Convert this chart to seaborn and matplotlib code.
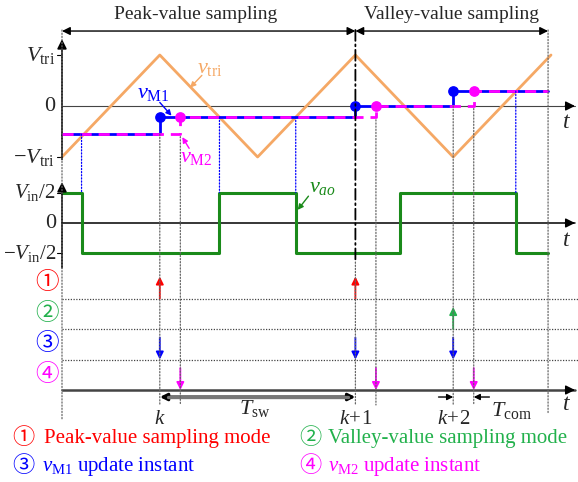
import numpy as np
import pandas as pd
import matplotlib
matplotlib.use("Agg")
import matplotlib.pyplot as plt
import seaborn as sns
from matplotlib.patches import ConnectionPatch

# ---------------- data ----------------
tri_t = [0, 1, 2, 3, 4, 5]
tri_v = [-1, 1, -1, 1, -1, 1]
sample_t = [1, 3, 4]                 # k, k+1, k+2
sample_labels = ["$k$", "$k\\!+\\!1$", "$k\\!+\\!2$"]
t_com = 0.21
vm_levels = [-0.55, -0.22, 0.0, 0.29]
t_end = 4.97
vao_t = [0, 0.20, 1.61, 2.39, 3.46, 4.64, 4.97]
vao_v = [1, -1, 1, -1, 1, -1, -1]
cross_t = [0.20, 1.61, 2.39, 4.64]
cross_level = [-0.55, -0.22, -0.22, 0.29]
peak_events = [1, 3]
valley_events = [4]
row_labels = ["\u2460", "\u2461", "\u2462", "\u2463"]
legend_texts = ["Peak-value sampling mode", "Valley-value sampling mode",
                "$v_{\\rm M1}\\ \\mathrm{update\\ instant}$",
                "$v_{\\rm M2}\\ \\mathrm{update\\ instant}$"]

ORANGE = "#F5A865"
BLUE = "#0000FF"
MAG = "#FF00FF"
GREEN = "#1A8A1A"
LGREEN = "#22B14C"
RED = "#FF0000"

sns.set_theme(style="white")
plt.rcParams["font.family"] = ["Liberation Serif", "Noto Sans CJK SC", "DejaVu Sans"]
plt.rcParams["mathtext.fontset"] = "custom"
plt.rcParams["mathtext.rm"] = "Liberation Serif"
plt.rcParams["mathtext.it"] = "Liberation Serif:italic"

W, H = 578, 482
fig = plt.figure(figsize=(W / 100, H / 100), dpi=100)
px0, pxs = 62, 97.8
xlim = (-px0 / pxs, (W - px0) / pxs)

def add_ax(top, bot, ylim):
    ax = fig.add_axes([0, 1 - bot / H, 1, (bot - top) / H])
    ax.set_xlim(*xlim)
    ax.set_ylim(*ylim)
    ax.axis("off")
    return ax

ax1 = add_ax(0, 172, (-(172 - 106) / 51, 106 / 51))
ax2 = add_ax(172, 268, ((223 - 268) / 30.5, (223 - 172) / 30.5))
ax3 = add_ax(268, 482, (-(482 - 390) / 30.5, (390 - 268) / 30.5))

x_arrow_end = (575 - px0) / pxs

def arrow(ax, xy, xytext, color="black", lw=1.0, style="-|>", ms=12, z=5):
    ax.annotate("", xy=xy, xytext=xytext,
                arrowprops=dict(arrowstyle=style, color=color, lw=lw,
                                shrinkA=0, shrinkB=0, mutation_scale=ms), zorder=z)

def vconn(axA, yA, axB, yB, t, **kw):
    cp = ConnectionPatch((t, yA), (t, yB), "data", "data", axesA=axA, axesB=axB, **kw)
    fig.add_artist(cp)

# ---------------- vertical guide lines ----------------
dot = dict(color="#666666", lw=0.9, linestyle=(0, (1, 1.5)))
vconn(ax1, 1.49, ax3, -0.98, 0, **dot)
vconn(ax1, 1.49, ax3, -0.75, t_end, **dot)
for i, ts in enumerate(sample_t):
    old = vm_levels[i]
    if ts == 3:
        vconn(ax1, 1.49, ax2, -1.28, ts, color="black", lw=1.3, linestyle=(0, (6, 2, 1, 2)))
        vconn(ax2, -1.28, ax3, -0.49, ts, **dot)
    else:
        vconn(ax1, old, ax3, -0.49, ts, **dot)
    vconn(ax1, old - 0.05, ax3, -0.49, ts + t_com, **dot)
for tc, lv in zip(cross_t, cross_level):
    vconn(ax1, lv, ax2, 1, tc, color=BLUE, lw=0.9, linestyle=(0, (1, 1.5)))

# ---------------- top panel ----------------
ax1.plot([0, x_arrow_end], [0, 0], color="#444444", lw=0.8, zorder=2)
arrow(ax1, (x_arrow_end, 0), (x_arrow_end - 0.1, 0), ms=14)
arrow(ax1, (0, 1.31), (0, -1.05), lw=1.2, ms=14)
for y in (1, -1):
    ax1.plot([-0.05, 0], [y, y], color="black", lw=0.8)
tri_df = pd.DataFrame({"t": tri_t, "v": tri_v})
sns.lineplot(data=tri_df, x="t", y="v", ax=ax1, color=ORANGE, lw=2, zorder=3)

m1_t = [0] + sample_t + [t_end]
m1_v = vm_levels + [vm_levels[-1]]
m2_t = [0] + [s + t_com for s in sample_t] + [t_end]
ax1.plot(m1_t, m1_v, drawstyle="steps-post", color=BLUE, lw=2, zorder=4)
ax1.plot(m2_t, m1_v, drawstyle="steps-post", color=MAG, lw=2, linestyle=(0, (4, 2.5)), zorder=5)
ax1.scatter(sample_t, vm_levels[1:], s=45, color=BLUE, zorder=6)
ax1.scatter([s + t_com for s in sample_t], vm_levels[1:], s=45, color=MAG, zorder=6)

ax1.text(-0.07, 1, "$V_{\\rm tri}$", ha="right", va="center", fontsize=16)
ax1.text(-0.07, 0, "0", ha="right", va="center", fontsize=16)
ax1.text(-0.07, -1, "$-V_{\\rm tri}$", ha="right", va="center", fontsize=16)
ax1.text(5.16, -0.33, "$t$", ha="center", va="center", fontsize=17)

ax1.text(1.51, 0.74, "$v_{\\rm tri}$", color=ORANGE, ha="center", va="center", fontsize=16)
arrow(ax1, (1.31, 0.36), (1.43, 0.60), color=ORANGE, lw=1, ms=8)
ax1.text(0.93, 0.25, "$v_{\\rm M1}$", color=BLUE, ha="center", va="center", fontsize=16)
arrow(ax1, (1.12, -0.19), (1.0, 0.07), color=BLUE, lw=1, ms=8)
ax1.text(1.37, -1.0, "$v_{\\rm M2}$", color=MAG, ha="center", va="center", fontsize=16)
arrow(ax1, (1.23, -0.61), (1.30, -0.83), color=MAG, lw=1, ms=8)

ax1.annotate("", xy=(0, 1.47), xytext=(3, 1.47),
             arrowprops=dict(arrowstyle="<|-|>", color="black", lw=1, shrinkA=0, shrinkB=0, mutation_scale=12))
ax1.annotate("", xy=(3, 1.47), xytext=(t_end, 1.47),
             arrowprops=dict(arrowstyle="<|-|>", color="black", lw=1, shrinkA=0, shrinkB=0, mutation_scale=12))
ax1.text(1.37, 1.80, "Peak-value sampling", ha="center", va="center", fontsize=14)
ax1.text(3.98, 1.80, "Valley-value sampling", ha="center", va="center", fontsize=14)

# ---------------- middle panel ----------------
ax2.plot([0, x_arrow_end], [0, 0], color="black", lw=1.1, zorder=2)
arrow(ax2, (x_arrow_end, 0), (x_arrow_end - 0.1, 0), ms=14)
arrow(ax2, (0, 1.34), (0, -1.47), lw=1.2, ms=14)
for y in (1, -1):
    ax2.plot([-0.05, 0], [y, y], color="black", lw=0.8)
ax2.plot(vao_t, vao_v, drawstyle="steps-post", color=GREEN, lw=2.2, zorder=4)
ax2.text(-0.06, 1, "$V_{\\rm in}/2$", ha="right", va="center", fontsize=15)
ax2.text(-0.06, 0, "0", ha="right", va="center", fontsize=16)
ax2.text(-0.06, -1, "$-V_{\\rm in}/2$", ha="right", va="center", fontsize=15)
ax2.text(5.16, -0.56, "$t$", ha="center", va="center", fontsize=17)
ax2.text(2.66, 1.18, "$v_{ao}$", color=GREEN, ha="center", va="center", fontsize=16)
arrow(ax2, (2.41, 0.43), (2.52, 0.88), color=GREEN, lw=1, ms=8)

# ---------------- event panel ----------------
for y in (1, 2, 3):
    ax3.plot([0, xlim[1]], [y, y], color="#444444", lw=0.9, linestyle=(0, (1, 1.2)))
ax3.plot([0, x_arrow_end], [0, 0], color="#444444", lw=1.8, zorder=2)
arrow(ax3, (x_arrow_end, 0), (x_arrow_end - 0.1, 0), ms=14)
ax3.text(5.16, -0.49, "$t$", ha="center", va="center", fontsize=17)

row_colors = [RED, LGREEN, BLUE, MAG]
for i, (lab, c) in enumerate(zip(row_labels, row_colors)):
    ax3.text(-0.15, 3.5 - i, lab, color=c, ha="center", va="center", fontsize=17)

for t in peak_events:
    arrow(ax3, (t, 3.72), (t, 3.0), color=RED, lw=1.3, ms=11)
for t in valley_events:
    arrow(ax3, (t, 2.72), (t, 2.0), color=LGREEN, lw=1.3, ms=11)
for t in sample_t:
    arrow(ax3, (t, 1.0), (t, 1.72), color=BLUE, lw=1.3, ms=11)
    arrow(ax3, (t + t_com, 0.0), (t + t_com, 0.72), color=MAG, lw=1.3, ms=11)

ax3.annotate("", xy=(sample_t[0], -0.23), xytext=(sample_t[1], -0.23),
             arrowprops=dict(arrowstyle="<|-|>", color="black", lw=2.2, shrinkA=0, shrinkB=0,
                             mutation_scale=10))
ax3.plot([sample_t[0] + 0.08, sample_t[1] - 0.08], [-0.23, -0.23], color="#777777", lw=2.4, zorder=6)
ax3.text(1.97, -0.62, "$T_{\\rm sw}$", ha="center", va="center", fontsize=16)
arrow(ax3, (sample_t[2], -0.23), (sample_t[2] - 0.15, -0.23), lw=1, ms=9)
arrow(ax3, (sample_t[2] + t_com, -0.23), (sample_t[2] + t_com + 0.16, -0.23), lw=1, ms=9)
ax3.text(4.39, -0.66, "$T_{\\rm com}$", ha="left", va="center", fontsize=16)
for t, lab in zip(sample_t, sample_labels):
    ax3.text(t, -0.98, lab, ha="center", va="center", fontsize=15)

num_pos = [(-0.51, -1.58), (2.43, -1.58), (-0.51, -2.50), (2.43, -2.50)]
txt_pos = [(-0.18, -1.58), (2.72, -1.58), (-0.20, -2.50), (2.72, -2.50)]
for (nx, ny), (tx, ty), lab, txt, c in zip(num_pos, txt_pos, row_labels, legend_texts, row_colors):
    ax3.text(nx, ny, lab, color=c, ha="left", va="center", fontsize=16)
    ax3.text(tx, ty, txt, color=c, ha="left", va="center", fontsize=15)

fig.savefig("out.png", dpi=100)
